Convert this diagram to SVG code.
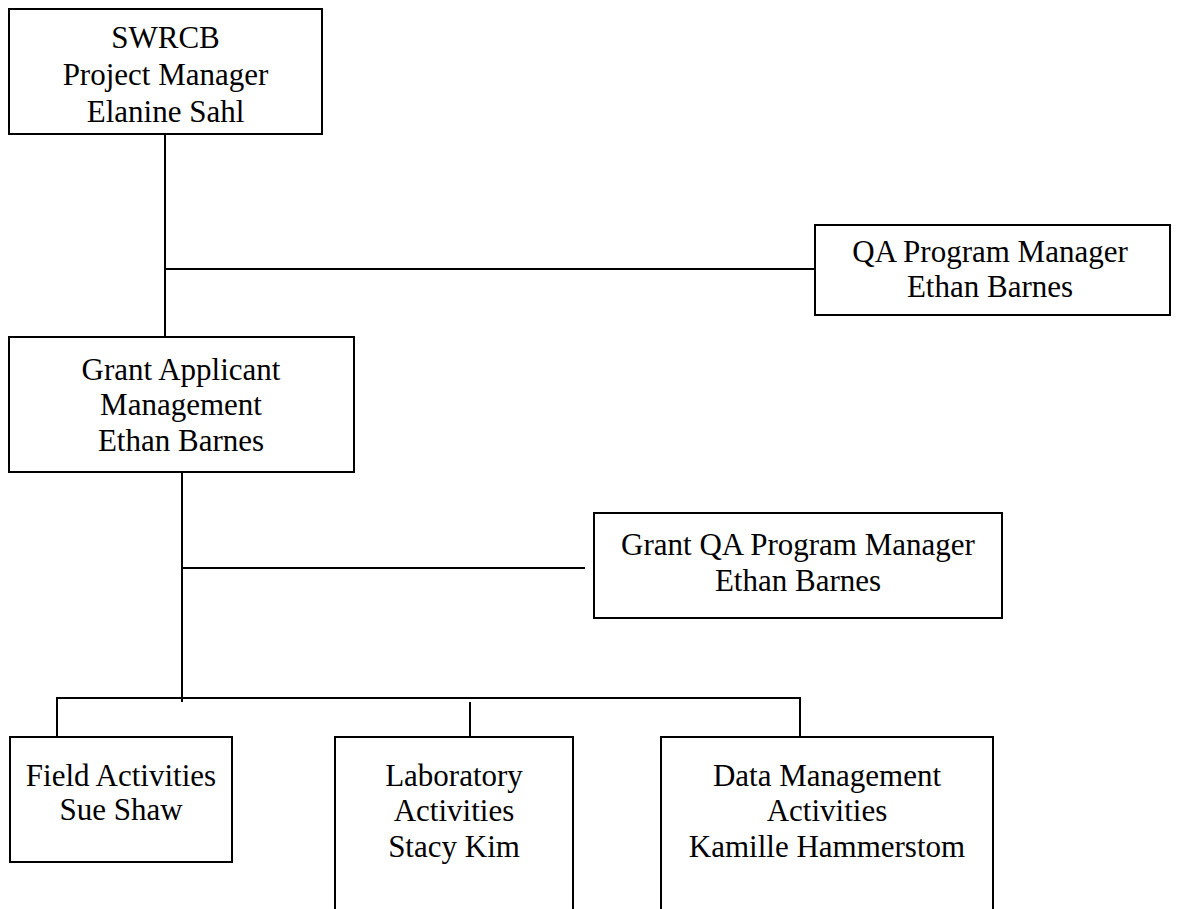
<svg xmlns="http://www.w3.org/2000/svg" width="1179" height="909" viewBox="0 0 1179 909">
<style>
.box{fill:#fff;stroke:#000;stroke-width:2}
.ln{stroke:#000;stroke-width:2;fill:none}
.t{font-family:'Liberation Serif','Tinos','DejaVu Serif',serif;font-size:31px;fill:#000;text-anchor:middle}
</style>
<rect width="1179" height="909" fill="#fff"/>
<g id="connectors">
<line class="ln" x1="165" y1="134" x2="165" y2="337"/>
<line class="ln" x1="165" y1="269" x2="815" y2="269"/>
<line class="ln" x1="182" y1="472" x2="182" y2="702"/>
<line class="ln" x1="182" y1="568" x2="585" y2="568"/>
<line class="ln" x1="56" y1="698" x2="801" y2="698"/>
<line class="ln" x1="57" y1="698" x2="57" y2="737"/>
<line class="ln" x1="470" y1="702" x2="470" y2="737"/>
<line class="ln" x1="800" y1="698" x2="800" y2="737"/>
</g>
<g id="swrcb">
<rect class="box" x="9" y="9" width="313" height="125"/>
<text class="t" x="165.5" y="48">SWRCB</text>
<text class="t" x="165.5" y="85">Project Manager</text>
<text class="t" x="165.5" y="122">Elanine Sahl</text>
</g>
<g id="qa">
<rect class="box" x="815" y="225" width="355" height="90"/>
<text class="t" x="990" y="262">QA Program Manager</text>
<text class="t" x="990" y="297">Ethan Barnes</text>
</g>
<g id="grant">
<rect class="box" x="9" y="337" width="345" height="135"/>
<text class="t" x="181" y="380">Grant Applicant</text>
<text class="t" x="181" y="415">Management</text>
<text class="t" x="181" y="451">Ethan Barnes</text>
</g>
<g id="grantqa">
<rect class="box" x="594" y="513" width="408" height="105"/>
<text class="t" x="798" y="555">Grant QA Program Manager</text>
<text class="t" x="798" y="591">Ethan Barnes</text>
</g>
<g id="field">
<rect class="box" x="10" y="737" width="222" height="125"/>
<text class="t" x="121" y="786">Field Activities</text>
<text class="t" x="121" y="820">Sue Shaw</text>
</g>
<g id="lab">
<rect class="box" x="335" y="737" width="238" height="180"/>
<text class="t" x="454" y="786">Laboratory</text>
<text class="t" x="454" y="821">Activities</text>
<text class="t" x="454" y="857">Stacy Kim</text>
</g>
<g id="data">
<rect class="box" x="661" y="737" width="332" height="180"/>
<text class="t" x="827" y="786">Data Management</text>
<text class="t" x="827" y="821">Activities</text>
<text class="t" x="827" y="857">Kamille Hammerstom</text>
</g>
</svg>
